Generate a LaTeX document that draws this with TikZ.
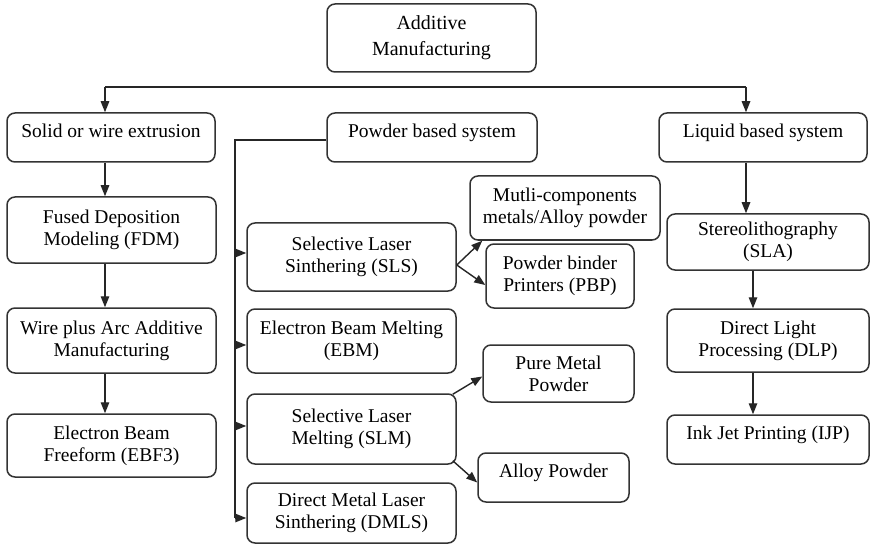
\documentclass[tikz,border=0pt]{standalone}
\usepackage{fontspec}
\setmainfont{Liberation Serif}
\usetikzlibrary{arrows.meta}
\begin{document}
\begin{tikzpicture}[x=1pt,y=-1pt,
  box/.style={draw=black!80, line width=1.5pt, rounded corners=8pt, align=center,
    inner sep=0pt, font={\fontsize{19.5}{22}\selectfont}, text=black},
  one/.style={text height=14pt, text depth=14pt},
  link/.style={draw=black!85, line width=1.4pt},
  arr/.style={link, -{Triangle[length=11pt,width=8.5pt]}}]
\useasboundingbox (0,0) rectangle (870,548);
\fill[white] (0,0) rectangle (870,548);

% root
\node[box, minimum width=209pt, minimum height=68pt, font={\fontsize{20}{26}\selectfont}]
  (am) at (431.5,38) {Additive\\Manufacturing};

% first level
\node[box, one, minimum width=208pt, minimum height=49pt] (solid)  at (111,137.5) {Solid or wire extrusion};
\node[box, one, minimum width=210pt, minimum height=49pt] (powder) at (432,137.5) {Powder based system};
\node[box, one, minimum width=208pt, minimum height=49pt] (liquid) at (763,137.5) {Liquid based system};

% extrusion column
\node[box, minimum width=209pt, minimum height=66pt] (fdm)  at (111.5,230)   {Fused Deposition\\Modeling (FDM)};
\node[box, minimum width=209pt, minimum height=65pt] (waam) at (111.5,340.5) {Wire plus Arc Additive\\Manufacturing};
\node[box, minimum width=209pt, minimum height=63pt] (ebf)  at (111.5,445.5) {Electron Beam\\Freeform (EBF3)};

% powder column
\node[box, minimum width=209pt, minimum height=68pt] (sls)  at (351.5,257) {Selective Laser\\Sinthering (SLS)};
\node[box, minimum width=209pt, minimum height=64pt] (ebm)  at (351.5,341) {Electron Beam Melting\\(EBM)};
\node[box, minimum width=209pt, minimum height=70pt] (slm)  at (351.5,429) {Selective Laser\\Melting (SLM)};
\node[box, minimum width=209pt, minimum height=60pt] (dmls) at (351.5,513) {Direct Metal Laser\\Sinthering (DMLS)};

% powder sub-types
\node[box, minimum width=190pt, minimum height=64pt] (multi) at (565,208)     {Mutli-components\\metals/Alloy powder};
\node[box, minimum width=148pt, minimum height=64pt] (pbp)   at (560,276)     {Powder binder\\Printers (PBP)};
\node[box, minimum width=151pt, minimum height=57pt] (pure)  at (558.5,373.5) {Pure Metal\\Powder};
\node[box, one, minimum width=151pt, minimum height=49pt] (alloy) at (553.5,477.5) {Alloy Powder};

% liquid column
\node[box, minimum width=202pt, minimum height=56pt] (sla) at (768,242)   {Stereolithography\\(SLA)};
\node[box, minimum width=202pt, minimum height=63pt] (dlp) at (768,340.5) {Direct Light\\Processing (DLP)};
\node[box, one, minimum width=202pt, minimum height=49pt] (ijp) at (768,439.5) {Ink Jet Printing (IJP)};

% top bus
\coordinate (busL) at (105,87);
\coordinate (busR) at (746,87);
\draw[link] (busL) -- (busR);
\draw[arr] (busL) -- (busL |- solid.north);
\draw[arr] (busR) -- (busR |- liquid.north);

% extrusion chain
\draw[arr] (solid.south -| busL) -- (fdm.north -| busL);
\draw[arr] (fdm.south -| busL) -- (waam.north -| busL);
\draw[arr] (waam.south -| busL) -- (ebf.north -| busL);

% powder trunk and branches
\coordinate (ptop) at (235,140);
\path ([yshift=4pt]sls.west)   coordinate (inSLS)
      ([yshift=-4pt]ebm.west)  coordinate (inEBM)
      ([yshift=3pt]slm.west)   coordinate (inSLM)
      ([yshift=-5pt]dmls.west) coordinate (inDMLS);
\draw[link] (powder.west |- ptop) -- (ptop) -- (ptop |- inDMLS);
\draw[arr] (inSLS -| ptop) -- (inSLS);
\draw[arr] (inEBM -| ptop) -- (inEBM);
\draw[arr] (inSLM -| ptop) -- (inSLM);
\draw[arr] (inDMLS -| ptop) -- (inDMLS);

% SLS and SLM outputs
\draw[arr] ([yshift=-8pt]sls.east) -- ([xshift=13pt]multi.south west);
\draw[arr] ([yshift=-8pt]sls.east) -- ([yshift=-9pt]pbp.west);
\draw[arr] ([xshift=-4pt,yshift=-1pt]slm.north east) -- ([yshift=-3pt]pure.west);
\draw[arr] ([xshift=-4pt,yshift=4pt]slm.south east) -- ([yshift=-5pt]alloy.west);

% liquid chain
\coordinate (lx) at (753,0);
\draw[arr] (liquid.south -| busR) -- (sla.north -| busR);
\draw[arr] (sla.south -| lx) -- (dlp.north -| lx);
\draw[arr] (dlp.south -| lx) -- (ijp.north -| lx);
\end{tikzpicture}
\end{document}
